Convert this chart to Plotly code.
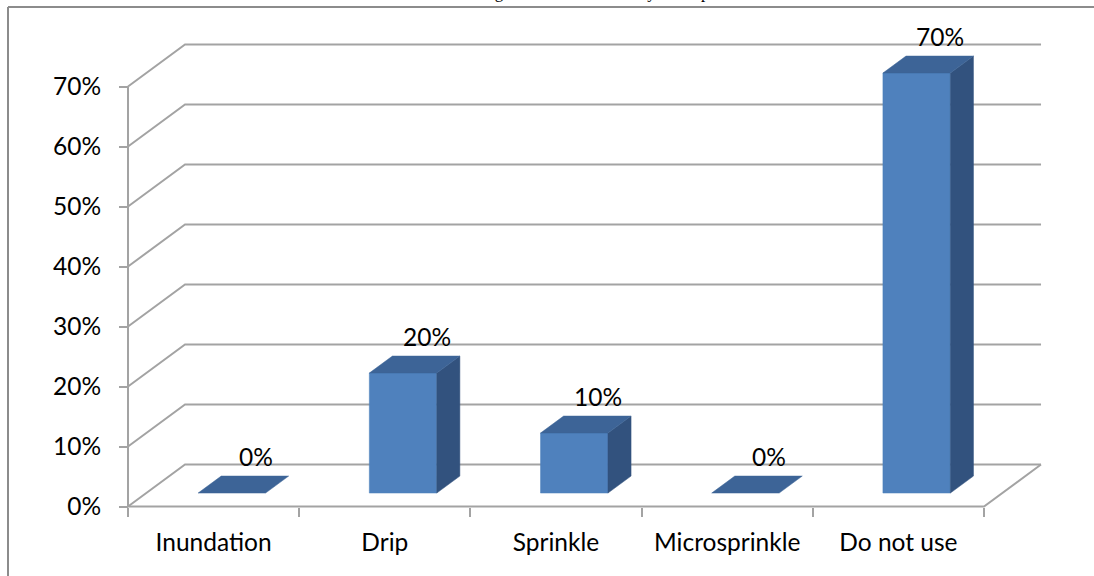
import plotly.graph_objects as go

# ---- data -------------------------------------------------------------
categories = ["Inundation", "Drip", "Sprinkle", "Microsprinkle", "Do not use"]
shares = [0, 20, 10, 0, 70]                      # % of respondents
y_ticks = [0, 10, 20, 30, 40, 50, 60, 70]
y_tick_labels = [f"{v}%" for v in y_ticks]
title_text = "Irrigation methods used by small producers"

# ---- pseudo-3D geometry (in axis units) -------------------------------
W, H = 1094, 576
X_LEFT, X_RIGHT = -0.5, len(categories) - 0.5   # floor front edge
DEPTH_X, DEPTH_Y = 0.333, 7.0                    # projection of the full depth
BAR_FRONT, BAR_BACK = 0.32, 0.725                # bar position inside the depth
BAR_HALF = 0.197                                 # half-width of a bar front face

# axis ranges chosen so one category = 171.2 px and 1 % = 6 px
X_RANGE = [-1.2477, -1.2477 + W / 171.2]
Y_RANGE = [-11.583, -11.583 + H / 6.0]

FRONT = "#4F81BD"
TOP = "#3D6497"
SIDE = "#32527E"
GRID = "#A3A3A3"
FONT = "Lato"
FONT_SIZE = 24.5

fig = go.Figure()


def poly(xs, ys, color):
    fig.add_trace(go.Scatter(
        x=xs + [xs[0]], y=ys + [ys[0]], mode="lines", fill="toself",
        fillcolor=color, line=dict(color=color, width=0.5),
        hoverinfo="skip", showlegend=False))


def line(xs, ys, color=GRID, width=2):
    fig.add_trace(go.Scatter(
        x=xs, y=ys, mode="lines", line=dict(color=color, width=width),
        hoverinfo="skip", showlegend=False))


# side wall + back wall gridlines
for v in y_ticks:
    line([X_LEFT, X_LEFT + DEPTH_X, X_RIGHT + DEPTH_X],
         [v, v + DEPTH_Y, v + DEPTH_Y])

# floor edges and front value axis
line([X_RIGHT + DEPTH_X, X_RIGHT, X_LEFT], [DEPTH_Y, 0, 0])
line([X_LEFT, X_LEFT], [0, max(y_ticks)])

# bars
sx, base = BAR_FRONT * DEPTH_X, BAR_FRONT * DEPTH_Y
ddx, ddy = (BAR_BACK - BAR_FRONT) * DEPTH_X, (BAR_BACK - BAR_FRONT) * DEPTH_Y
for i, v in enumerate(shares):
    x0, x1 = i + sx - BAR_HALF, i + sx + BAR_HALF
    top = base + v
    if v > 0:
        poly([x0, x1, x1, x0], [base, base, top, top], FRONT)
        poly([x1, x1 + ddx, x1 + ddx, x1],
             [base, base + ddy, top + ddy, top], SIDE)
    poly([x0, x1, x1 + ddx, x0 + ddx], [top, top, top + ddy, top + ddy], TOP)

# value labels
annotations = []
for i, v in enumerate(shares):
    annotations.append(dict(
        x=i + 0.245, y=v + 8.3, xref="x", yref="y", text=f"{v}%",
        showarrow=False, font=dict(family=FONT, size=FONT_SIZE, color="black")))

# caption line sitting above the frame
annotations.append(dict(
    x=471 / W, y=1 + 8 / H, xref="paper", yref="paper", xanchor="left",
    yanchor="middle", text=title_text, showarrow=False,
    font=dict(family="Liberation Serif", size=17, color="black")))

x_pos = (X_LEFT - X_RANGE[0]) / (X_RANGE[1] - X_RANGE[0])
y_pos = (0 - Y_RANGE[0]) / (Y_RANGE[1] - Y_RANGE[0])

fig.update_layout(
    width=W, height=H, autosize=False,
    margin=dict(l=0, r=0, t=0, b=0),
    paper_bgcolor="white", plot_bgcolor="white",
    showlegend=False,
    annotations=annotations,
    xaxis=dict(
        range=X_RANGE, anchor="free", position=y_pos,
        tickmode="array", tickvals=list(range(len(categories))),
        ticktext=categories, ticks="", showline=False, showgrid=False,
        zeroline=False, ticklabelstandoff=19,
        tickfont=dict(family=FONT, size=FONT_SIZE, color="black"),
        minor=dict(tickmode="array",
                   tickvals=[k - 0.5 for k in range(len(categories) + 1)],
                   ticks="outside", ticklen=9, tickwidth=2, tickcolor=GRID,
                   showgrid=False),
        fixedrange=True),
    yaxis=dict(
        range=Y_RANGE, anchor="free", position=x_pos,
        tickmode="array", tickvals=y_ticks, ticktext=y_tick_labels,
        ticks="outside", ticklen=9, tickwidth=2, tickcolor=GRID,
        showline=False, showgrid=False, zeroline=False,
        ticklabelstandoff=13,
        tickfont=dict(family=FONT, size=FONT_SIZE, color="black"),
        fixedrange=True),
    shapes=[
        dict(type="line", xref="paper", yref="paper",
             x0=8 / W, y0=1 - 7 / H, x1=1094 / W, y1=1 - 7 / H,
             line=dict(color="#8C8C8C", width=2)),
        dict(type="line", xref="paper", yref="paper",
             x0=8 / W, y0=1 - 7 / H, x1=8 / W, y1=0,
             line=dict(color="#8C8C8C", width=2)),
    ],
)

# keep the page free of margins and scrollbars
page_css = ("document.documentElement.style.overflow='hidden';"
            "document.body.style.overflow='hidden';"
            "document.body.style.margin='0';")

fig.write_html("out.html", post_script=page_css,
               config={"displayModeBar": False})
